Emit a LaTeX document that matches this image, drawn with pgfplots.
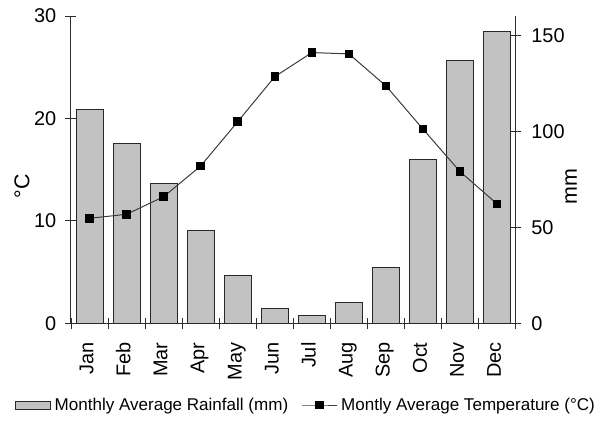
\documentclass[border=0pt]{standalone}
\usepackage{fontspec}
\setmainfont{Liberation Sans}
\usepackage{pgfplots}
\usepackage{pgfplotstable}
\pgfplotsset{compat=1.18}
\definecolor{bargray}{RGB}{194,194,194}
\definecolor{edge}{RGB}{40,40,40}
\definecolor{axisc}{RGB}{45,45,45}
\definecolor{linec}{RGB}{60,60,60}

\pgfplotsset{
  linelegend/.style={legend image code/.code={\draw[mark repeat=2, mark phase=2, ##1] plot coordinates {(0bp,0bp) (17.5bp,0bp) (35bp,0bp)};}},
  barlegend/.style={legend image code/.code={\draw[fill=bargray, draw=edge, line width=1bp] (0bp,-4bp) rectangle (35bp,4bp);}},
}

\pgfplotstableread{
m rain temp
1 111.5 10.25
2 93.7 10.64
3 72.8 12.36
4 48.2 15.36
5 25.1 19.69
6 7.8 24.08
7 4.0 26.43
8 10.7 26.3
9 28.9 23.17
10 85.3 18.95
11 136.6 14.8
12 152.1 11.65
}\data

\begin{document}
\begin{tikzpicture}
\pgfplotsset{
  common/.style={
    scale only axis, width=444.7bp, height=307.3bp,
    at={(0,0)}, anchor=south west,
    xmin=0.5, xmax=12.5,
    /pgf/number format/assume math mode=true,
    tick align=center,
    axis line style={axisc, line width=1bp},
    every tick/.style={axisc, line width=1bp},
    tick label style={font=\fontsize{20}{24}\selectfont, text=black},
    major tick length=11bp,
  }
}
\begin{axis}[common,
  axis x line*=bottom, axis y line*=right,
  ymin=0, ymax=160, ytick={0,50,100,150},
  yticklabel style={anchor=west, inner sep=0pt, xshift=10bp},
  xtick={0.5,1.5,...,12.5}, xticklabels={},
  extra x ticks={1,2,...,12},
  extra x tick labels={Jan,Feb,Mar,Apr,May,Jun,Jul,Aug,Sep,Oct,Nov,Dec},
  extra x tick style={major tick length=0pt,
    xticklabel style={rotate=90, anchor=east, inner sep=0pt, text height=1.0em, text depth=0.25em}},
  xticklabel shift=19bp,
  ylabel={mm},
  every axis y label/.style={at={(axis description cs:1,0.445)}, xshift=55.3bp, rotate=90, anchor=center, font=\fontsize{21.5}{24}\selectfont},
]
\addplot[ybar, bar width=27bp, fill=bargray, draw=edge, line width=1bp] table[x=m, y=rain]{\data};
\end{axis}
\begin{axis}[common,
  axis y line*=left, axis x line=none,
  ymin=0, ymax=30, ytick={0,10,20,30},
  yticklabel style={anchor=east, inner sep=0pt, xshift=-9bp},
  ylabel={°C},
  every axis y label/.style={at={(axis description cs:0,0.445)}, xshift=-49bp, rotate=90, anchor=center, font=\fontsize{21.5}{24}\selectfont},
  legend columns=2,
  legend style={draw=none, fill=none, font=\fontsize{17.1}{20}\selectfont,
    at={(axis description cs:0,0)}, anchor=west, xshift=-56bp, yshift=-81.7bp,
    inner sep=0pt, nodes={inner xsep=3.5bp, inner ysep=0pt},
    /tikz/every even column/.append style={column sep=10bp}},
]
\addlegendimage{barlegend}
\addlegendentry{Monthly Average Rainfall (mm)}
\addplot[color=linec, line width=1bp, mark=square*, mark size=3.8bp,
  mark options={fill=black, draw=black}, linelegend]
  table[x=m, y=temp]{\data};
\addlegendentry{Montly Average Temperature (°C)}
\end{axis}
\pgfresetboundingbox
\path[use as bounding box] (-71bp,-98.7bp) rectangle (524bp,323.3bp);
\end{tikzpicture}
\end{document}
